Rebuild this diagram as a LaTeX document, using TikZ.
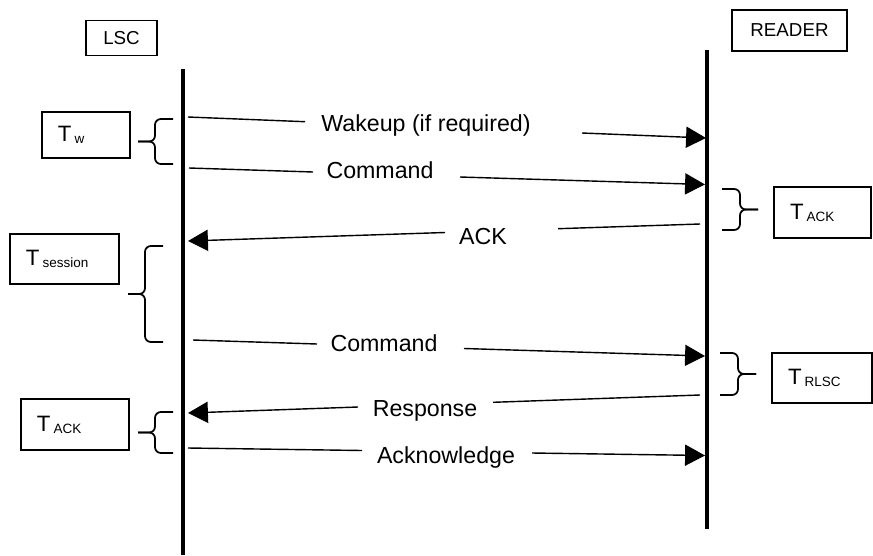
\documentclass[tikz,border=0pt]{standalone}
\usepackage{fontspec}
\setmainfont{Liberation Sans}
\usetikzlibrary{arrows.meta}

\newcommand{\Tsub}[1]{T\kern2.6pt\lower1.8pt\hbox{\fontsize{11.5}{12}\selectfont #1}}
% brace opening to the left / right: x of the ends, top y, bottom y
\newcommand{\braceL}[3]{%
  \draw[brc] (#1,#2) -- ({#1-18},#2) -- ({#1-18},{(#2+#3)/2}) -- ({#1-35},{(#2+#3)/2});
  \draw[brc] ({#1-35},{(#2+#3)/2}) -- ({#1-18},{(#2+#3)/2}) -- ({#1-18},#3) -- (#1,#3);}
\newcommand{\braceR}[3]{%
  \draw[brc] (#1,#2) -- ({#1+18},#2) -- ({#1+18},{(#2+#3)/2}) -- ({#1+36},{(#2+#3)/2});
  \draw[brc] ({#1+36},{(#2+#3)/2}) -- ({#1+18},{(#2+#3)/2}) -- ({#1+18},#3) -- (#1,#3);}

\begin{document}
\begin{tikzpicture}[x=0.03cm, y=-0.03cm,
    life/.style={line width=2.8pt},
    msg/.style={line width=1.2pt},
    tip/.style={-{Triangle[length=17pt,width=18pt]}},
    brc/.style={line width=1.5pt, rounded corners=5pt},
    hbox/.style={draw, line width=0.9pt, inner sep=0pt, font=\fontsize{16}{18}\selectfont},
    tbox/.style={draw, line width=0.9pt, align=left, inner xsep=0.48cm, inner ysep=0pt, font=\fontsize{19}{21}\selectfont},
    lbl/.style={inner sep=0pt, font=\fontsize{19.8}{22}\selectfont}]
      \useasboundingbox (0,0) rectangle (873,555);
      % Heads and life lines:
      \node[hbox, minimum width=2.13cm, minimum height=1.05cm] (LSC) at (121.5,38) {LSC};
      \node[hbox, minimum width=3.45cm, minimum height=1.23cm] (RDR) at (789.5,30.5) {READER};
      \coordinate (LT) at (183,69);
      \coordinate (LB) at (183,555);
      \coordinate (RT) at (707,50);
      \coordinate (RB) at (707,529);
      \draw[life] (LT) -- (LB);
      \draw[life] (RT) -- (RB);
      % Time boxes and braces:
      \node[tbox, text width=1.68cm, minimum height=1.38cm] (TW) at (86,135) {\Tsub{w}};
      \node[tbox, text width=1.95cm, minimum height=1.53cm] (TA1) at (822.5,212.5) {\Tsub{ACK}};
      \node[tbox, text width=2.31cm, minimum height=1.5cm] (TS) at (64.5,259) {\Tsub{session}};
      \node[tbox, text width=2.04cm, minimum height=1.5cm] (TR) at (822,378) {\Tsub{RLSC}};
      \node[tbox, text width=2.28cm, minimum height=1.53cm] (TA2) at (75,424.5) {\Tsub{ACK}};
      \braceL{173}{119}{164}
      \braceR{722}{189}{230}
      \braceL{163}{246}{342}
      \braceR{720}{353}{395}
      \braceL{173}{412}{453}
      % Messages:
      \node[lbl] (M1) at (426,125) {Wakeup (if required)};
      \coordinate (M1a) at (188,117);
      \coordinate (M1b) at (305,121.7);
      \coordinate (M1c) at (582,133);
      \coordinate (M1d) at (706,138);
      \draw[msg] (M1a) -- (M1b);
      \draw[msg, tip] (M1c) -- (M1d);
      \node[lbl] (M2) at (380,170) {Command};
      \coordinate (M2a) at (189,168);
      \coordinate (M2b) at (313,172);
      \coordinate (M2c) at (460,177);
      \coordinate (M2d) at (705,184.5);
      \draw[msg] (M2a) -- (M2b);
      \draw[msg, tip] (M2c) -- (M2d);
      \node[lbl] (M3) at (483,237) {ACK};
      \coordinate (M3a) at (700,224);
      \coordinate (M3b) at (558,228.7);
      \coordinate (M3c) at (445,232.5);
      \coordinate (M3d) at (188,241);
      \draw[msg] (M3a) -- (M3b);
      \draw[msg, tip] (M3c) -- (M3d);
      \node[lbl] (M4) at (384,343) {Command};
      \coordinate (M4a) at (193,340);
      \coordinate (M4b) at (317,344);
      \coordinate (M4c) at (464,348.5);
      \coordinate (M4d) at (705,356);
      \draw[msg] (M4a) -- (M4b);
      \draw[msg, tip] (M4c) -- (M4d);
      \node[lbl] (M5) at (425,411) {Response};
      \coordinate (M5a) at (700,395);
      \coordinate (M5b) at (493,402.3);
      \coordinate (M5c) at (358,407);
      \coordinate (M5d) at (188,413);
      \draw[msg] (M5a) -- (M5b);
      \draw[msg, tip] (M5c) -- (M5d);
      \node[lbl] (M6) at (446,457) {Acknowledge};
      \coordinate (M6a) at (188,448);
      \coordinate (M6b) at (362,450.5);
      \coordinate (M6c) at (532,453);
      \coordinate (M6d) at (705,455.5);
      \draw[msg] (M6a) -- (M6b);
      \draw[msg, tip] (M6c) -- (M6d);
\end{tikzpicture}
\end{document}
